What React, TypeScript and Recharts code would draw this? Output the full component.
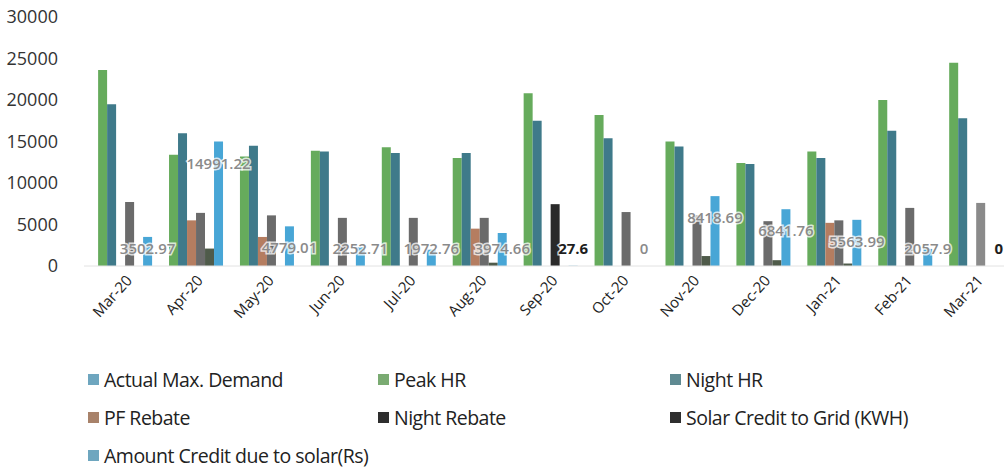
import { Bar, BarChart, Cell, LabelList, Legend, XAxis, YAxis } from "recharts";

const months = ["Mar-20", "Apr-20", "May-20", "Jun-20", "Jul-20", "Aug-20", "Sep-20", "Oct-20", "Nov-20", "Dec-20", "Jan-21", "Feb-21", "Mar-21"];
const actualMaxDemand = [0, 0, 0, 0, 0, 0, 0, 0, 0, 0, 0, 0, 0];
const peakHr = [23600, 13400, 13200, 13900, 14300, 13000, 20800, 18200, 15000, 12400, 13800, 20000, 24500];
const nightHr = [19500, 16000, 14500, 13800, 13600, 13600, 17500, 15400, 14400, 12300, 13000, 16300, 17800];
const pfRebate = [0, 5500, 3500, 0, 0, 4500, 0, 0, 0, 0, 5200, 0, 0];
const nightRebate = [7700, 6400, 6100, 5800, 5800, 5800, 7450, 6500, 6100, 5400, 5500, 7000, 7600];
const solarCredit = [0, 2100, 0, 0, 0, 400, 0, 0, 1200, 700, 300, 0, 0];
const amountCredit = [3502.97, 14991.22, 4779.01, 2252.71, 1972.76, 3974.66, 27.6, 0, 8418.69, 6841.76, 5563.99, 2057.9, 0];
const yTicks = [0, 5000, 10000, 15000, 20000, 25000, 30000];

const series = [
  { key: "amd", name: "Actual Max. Demand", color: "#6ea6bf" },
  { key: "peak", name: "Peak HR", color: "#66ab5c" },
  { key: "night", name: "Night HR", color: "#3f7a8a" },
  { key: "pf", name: "PF Rebate", color: "#b57d60" },
  { key: "nightReb", name: "Night Rebate", color: "#6b6b6b" },
  { key: "solar", name: "Solar Credit to Grid (KWH)", color: "#4f5b4a" },
  { key: "amount", name: "Amount Credit due to solar(Rs)", color: "#48a6d6" },
];
const legendSwatch: Record<string, string> = {
  amd: "#6ea6bf",
  peak: "#7aab72",
  night: "#5f8a92",
  pf: "#a8826a",
  nightReb: "#2e2e2e",
  solar: "#2e2e2e",
  amount: "#6ea6bf",
};

const rows = months.map((m, i) => ({
  month: m,
  amd: actualMaxDemand[i],
  peak: peakHr[i],
  night: nightHr[i],
  pf: pfRebate[i],
  nightReb: nightRebate[i],
  solar: solarCredit[i],
  amount: amountCredit[i],
}));

const font = "'Open Sans', 'DejaVu Sans', sans-serif";
const darkLabels = [6, 12];

function nightRebFill(i: number) {
  if (i === 6) return "#2a2a2a";
  if (i === 12) return "#8a8a8a";
  return "#6b6b6b";
}

// Amount Credit labels. Zero-height bars get no label from recharts, so the
// labels hang off the Night Rebate bar (always > 0), moved two slots right onto
// the Amount Credit slot; its height gives the px-per-unit of the value axis.
function AmountLabel(props: any) {
  const { x, y, width, height, index } = props;
  const v = amountCredit[index];
  const dark = darkLabels.includes(index);
  const zeroY = y + height;
  const perUnit = height / nightRebate[index];
  const barTop = zeroY - v * perUnit;
  const ly = Math.min(barTop + 21, zeroY - 18);
  return (
    <text
      x={x + width * 2.5}
      y={ly}
      textAnchor="middle"
      dominantBaseline="central"
      fontFamily={font}
      fontSize={15}
      fontWeight={dark ? 700 : 600}
      fill={dark ? "#1e1e1e" : "#8a8a8a"}
      stroke="rgba(255,255,255,0.75)"
      strokeWidth={3}
      paintOrder="stroke"
    >
      {String(v)}
    </text>
  );
}

function MonthTick({ x, y, payload }: any) {
  const ax = x + 9;
  const ay = y + 3;
  return (
    <text
      x={ax}
      y={ay}
      transform={`rotate(-48 ${ax} ${ay})`}
      textAnchor="end"
      dominantBaseline="central"
      fontFamily={font}
      fontSize={15}
      fill="#1e1e1e"
    >
      {payload.value}
    </text>
  );
}

// legend laid out like the excel one: 3 columns, 3 rows
function LegendGrid() {
  const cols = [88, 378, 670];
  const rowsY = [380, 418, 456];
  return (
    <div style={{ position: "relative", width: 1004, height: 100 }}>
      {series.map((s, i) => (
        <div
          key={s.key}
          style={{
            position: "absolute",
            left: cols[i % 3],
            top: rowsY[Math.floor(i / 3)] - 366 - 14,
            display: "flex",
            alignItems: "center",
            fontFamily: font,
            fontSize: 19.5,
            letterSpacing: -0.5,
            color: "#222",
            whiteSpace: "nowrap",
          }}
        >
          <span style={{ width: 11, height: 11, background: legendSwatch[s.key], marginRight: 5, display: "inline-block" }} />
          {s.name}
        </div>
      ))}
    </div>
  );
}

export default function App() {
  return (
    <div style={{ position: "absolute", left: 0, top: 0, width: 1004, height: 474, overflow: "hidden", background: "#fff" }}>
      <BarChart
        width={1006}
        height={474}
        data={rows}
        margin={{ top: 17, right: 0, bottom: 0, left: 0 }}
        barCategoryGap="7.2%"
        barGap={0}
      >
        <XAxis
          dataKey="month"
          interval={0}
          tick={<MonthTick />}
          tickLine={false}
          axisLine={{ stroke: "#e2e2e2" }}
          height={108}
        />
        <YAxis
          domain={[0, 30000]}
          ticks={yTicks}
          width={84}
          axisLine={false}
          tickLine={false}
          tick={{ fontFamily: font, fontSize: 18, fill: "#333" }}
          tickMargin={20}
        />
        <Legend
          content={<LegendGrid />}
          wrapperStyle={{ position: "absolute", left: 0, top: 366, width: 1004, height: 100 }}
        />
        {series.map((s) => (
          <Bar key={s.key} dataKey={s.key} name={s.name} fill={s.color} isAnimationActive={false}>
            {s.key === "nightReb" && months.map((m, i) => <Cell key={m} fill={nightRebFill(i)} />)}
            {s.key === "nightReb" && <LabelList dataKey="nightReb" content={<AmountLabel />} />}
          </Bar>
        ))}
      </BarChart>
    </div>
  );
}
